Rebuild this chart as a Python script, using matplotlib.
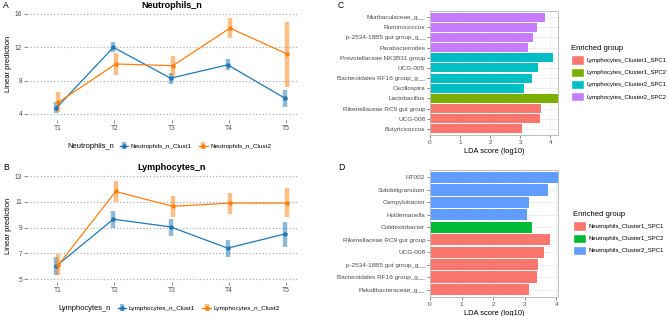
import matplotlib
matplotlib.use("Agg")
import matplotlib.pyplot as plt
import numpy as np
from matplotlib.patches import Patch

plt.rcParams["font.family"] = ["Liberation Sans", "DejaVu Sans"]

W, H = 669, 316

timepoints = ["T1", "T2", "T3", "T4", "T5"]

# A - neutrophils (mean, lower, upper)
neu_c1 = [4.7, 12.0, 8.3, 9.9, 5.9]
neu_c1_lo = [4.1, 11.4, 7.65, 9.25, 4.9]
neu_c1_hi = [5.4, 12.65, 8.9, 10.6, 6.85]
neu_c2 = [5.4, 10.0, 9.8, 14.3, 11.2]
neu_c2_lo = [4.2, 8.7, 8.6, 13.1, 7.2]
neu_c2_hi = [6.6, 11.3, 11.0, 15.5, 15.05]

# B - lymphocytes
lym_c1 = [6.0, 9.65, 9.05, 7.4, 8.5]
lym_c1_lo = [5.3, 8.95, 8.35, 6.7, 7.5]
lym_c1_hi = [6.7, 10.3, 9.7, 8.05, 9.45]
lym_c2 = [6.1, 11.8, 10.65, 10.9, 10.9]
lym_c2_lo = [5.35, 11.0, 9.8, 10.05, 9.8]
lym_c2_hi = [6.95, 12.65, 11.45, 11.7, 12.05]

# C - LEfSe lymphocytes (bottom to top)
c_taxa = ["Butyricicoccus", "UCG-008", "Rikenellaceae RC9 gut group", "Lactobacillus",
          "Oscillospira", "Bacteroidales RF16 group_g__", "UCG-005", "Prevotellaceae NK3B31 group",
          "Parabacteroides", "p-2534-18B5 gut group_g__", "Ruminococcus", "Muribaculaceae_g__"]
c_lda = [3.07, 3.67, 3.68, 4.3, 3.14, 3.41, 3.61, 4.09, 3.27, 3.44, 3.57, 3.83]
c_group = [0, 0, 0, 1, 2, 2, 2, 2, 3, 3, 3, 3]
c_groups = ["Lymphocytes_Cluster1_SPC1", "Lymphocytes_Cluster1_SPC2",
            "Lymphocytes_Cluster2_SPC1", "Lymphocytes_Cluster2_SPC2"]
c_colors = ["#F8766D", "#7CAE00", "#00BFC4", "#C77CFF"]

# D - LEfSe neutrophils (bottom to top)
d_taxa = ["Paludibacteraceae_g__", "Bacteroidales RF16 group_g__", "p-2534-18B5 gut group_g__",
          "UCG-008", "Rikenellaceae RC9 gut group", "Colidextribacter", "Holdemanella",
          "Campylobacter", "Subdoligranulum", "HT002"]
d_lda = [3.13, 3.38, 3.41, 3.61, 3.79, 3.24, 3.07, 3.13, 3.73, 4.1]
d_group = [0, 0, 0, 0, 0, 1, 2, 2, 2, 2]
d_groups = ["Neutrophils_Cluster1_SPC1", "Neutrophils_Cluster1_SPC2", "Neutrophils_Cluster2_SPC1"]
d_colors = ["#F8766D", "#00BA38", "#619CFF"]

BLUE, ORANGE = "#1F77B4", "#FF7F0E"


def px_axes(fig, left, top, right, bottom):
    return fig.add_axes([left / W, 1 - bottom / H, (right - left) / W, (bottom - top) / H])


def line_panel(fig, box, title, name, series, yticks, ylim, letter, lab_y, title_y,
               leg_y, name_x, hand_x):
    ax = px_axes(fig, *box)
    x = np.arange(1, 6)
    handles = []
    for (m, lo, hi, col, off, lab) in series:
        m, lo, hi = np.array(m), np.array(lo), np.array(hi)
        h = ax.errorbar(x + off, m, yerr=[m - lo, hi - m], fmt="-o", color=col, ms=2.2, lw=0.9,
                        ecolor=matplotlib.colors.to_rgba(col, 0.5), elinewidth=3.2, capsize=0,
                        label=lab)
        handles.append(h)
    ax.set_xlim(0.47, 5.21)
    ax.set_ylim(*ylim)
    ax.set_yticks(yticks)
    ax.set_xticks(x)
    ax.set_xticklabels(timepoints)
    for s in ax.spines.values():
        s.set_visible(False)
    ax.grid(axis="y", ls=":", color="#b0b0b0", lw=0.9)
    ax.set_axisbelow(True)
    ax.tick_params(labelsize=4.8, length=2, width=0.5, color="#555555", labelcolor="#4d4d4d", pad=1.5)
    ax.set_ylabel("Linear prediction", fontsize=5.4, labelpad=2)
    fig.text(172 / W, 1 - title_y / H, title, fontsize=6.5, fontweight="bold", ha="center", va="center")
    fig.text(3 / W, 1 - lab_y / H, letter, fontsize=6.2, ha="left", va="center")
    fig.text(name_x / W, 1 - leg_y / H, name, fontsize=5.4, ha="left", va="center")
    ax.legend(handles=handles, ncol=2, loc="center left", bbox_to_anchor=(hand_x / W, 1 - leg_y / H),
              bbox_transform=fig.transFigure, frameon=False, fontsize=4.6, handlelength=1.3,
              handletextpad=0.4, columnspacing=1.2, borderaxespad=0)
    return ax


def bar_panel(fig, box, taxa, lda, group, groups, colors, xlim, letter, lab_y, leg_x, leg_y):
    ax = px_axes(fig, *box)
    y = np.arange(len(taxa))
    ax.barh(y, lda, height=0.9, color=[colors[g] for g in group], zorder=2)
    ax.set_yticks(y)
    ax.set_yticklabels(taxa)
    ax.set_ylim(-0.6, len(taxa) - 0.4)
    ax.set_xlim(*xlim)
    ax.set_xticks([0, 1, 2, 3, 4])
    ax.set_xticks([0.5, 1.5, 2.5, 3.5], minor=True)
    ax.grid(which="major", color="#ebebeb", lw=0.6, zorder=0)
    ax.grid(which="minor", axis="x", color="#f4f4f4", lw=0.4, zorder=0)
    ax.tick_params(which="minor", length=0)
    ax.tick_params(labelsize=4.6, length=2, width=0.5, color="#555555", labelcolor="#4d4d4d", pad=1.5)
    for s in ax.spines.values():
        s.set_color("#bdbdbd")
        s.set_linewidth(0.7)
    ax.set_xlabel("LDA score (log10)", fontsize=5.4, labelpad=2)
    fig.text(338 / W, 1 - lab_y / H, letter, fontsize=6.2, ha="left", va="center")
    hs = [Patch(facecolor=c, edgecolor="white", label=g) for g, c in zip(groups, colors)]
    ax.legend(handles=hs, loc="upper left", bbox_to_anchor=(leg_x / W, 1 - leg_y / H),
              bbox_transform=fig.transFigure, frameon=False, fontsize=4.3,
              title="Enriched group", title_fontsize=5.5, handlelength=2.1, handleheight=2.0,
              handletextpad=0.4, labelspacing=0.5, borderaxespad=0, alignment="left")
    return ax


fig = plt.figure(figsize=(W / 100, H / 100), dpi=100)

line_panel(fig, (27, 8, 298, 120), "Neutrophils_n", "Neutrophils_n",
           [(neu_c1, neu_c1_lo, neu_c1_hi, BLUE, -0.02, "Neutrophils_n_Clust1"),
            (neu_c2, neu_c2_lo, neu_c2_hi, ORANGE, 0.02, "Neutrophils_n_Clust2")],
           [4, 8, 12, 16], (3.28, 16.72), "A", 5, 5, 146, 67, 117)

line_panel(fig, (27, 170, 298, 282), "Lymphocytes_n", "Lymphocytes_n",
           [(lym_c1, lym_c1_lo, lym_c1_hi, BLUE, -0.02, "Lymphocytes_n_Clust1"),
            (lym_c2, lym_c2_lo, lym_c2_hi, ORANGE, 0.02, "Lymphocytes_n_Clust2")],
           [5, 7, 9, 11, 13], (4.77, 13.47), "B", 167, 167, 308, 58, 115)

bar_panel(fig, (430, 11, 558, 135), c_taxa, c_lda, c_group, c_groups, c_colors,
          (0, 4.26), "C", 6, 569, 43)
bar_panel(fig, (430, 170, 558, 297), d_taxa, d_lda, d_group, d_groups, d_colors,
          (0, 4.05), "D", 167, 571, 209)

fig.savefig("out.png", dpi=100)
